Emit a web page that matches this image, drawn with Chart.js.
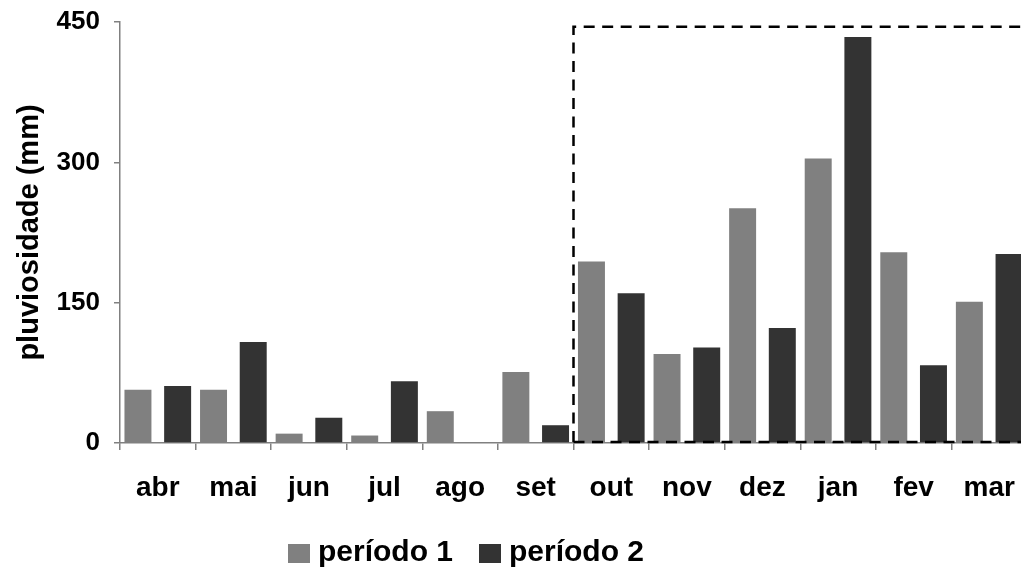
<!DOCTYPE html>
<html>
<head>
<meta charset="utf-8">
<script src="https://cdn.jsdelivr.net/npm/chart.js@4"></script>
<style>
    html, body { margin: 0; padding: 0; overflow: hidden; background: #fff; }
    #wrap { position: relative; width: 1027px; height: 571px; }
    #rainChart { display: block; }
    #legend { position: absolute; left: 0; top: 0; font-family: 'Liberation Sans', Arial, sans-serif; font-weight: bold; font-size: 30px; line-height: 30px; color: #000; }
    .item { position: absolute; top: 536px; white-space: nowrap; }
    .swatch { position: absolute; top: 544px; width: 22px; height: 19px; }
</style>
</head>
<body>
<div id="wrap">
    <canvas id="rainChart" width="1027" height="571"></canvas>
    <div id="legend"></div>
</div>
<script>
// months and rainfall (mm)
const months = ['abr', 'mai', 'jun', 'jul', 'ago', 'set', 'out', 'nov', 'dez', 'jan', 'fev', 'mar'];
const periodo1 = [57, 57, 10, 8, 34, 76, 194, 95, 251, 304, 204, 151];
const periodo2 = [61, 108, 27, 66, 0, 19, 160, 102, 123, 434, 83, 202];
const seriesNames = ['período 1', 'período 2'];
const yTicks = [0, 150, 300, 450];

// dashed box around the rainy season
const boxFrom = 'out';
const boxTo = 'mar';
const boxTop = 445;

const colors = ['#808080', '#333333'];
const axisColor = '#808080';
const font = "'Liberation Sans', Arial, sans-serif";

const dashedBox = {
    id: 'dashedBox',
    afterDatasetsDraw(chart) {
        const x = chart.scales.x;
        const y = chart.scales.y;
        const left = x.getPixelForValue(months.indexOf(boxFrom) - 0.5);
        const right = x.getPixelForValue(months.indexOf(boxTo) + 0.5);
        const top = y.getPixelForValue(boxTop);
        const bottom = y.getPixelForValue(0) - 1;
        const ctx = chart.ctx;
        ctx.save();
        ctx.strokeStyle = '#000';
        ctx.lineWidth = 2.5;
        ctx.setLineDash([11, 7.5]);
        ctx.beginPath();
        ctx.moveTo(left, bottom);
        ctx.lineTo(left, top);
        ctx.lineTo(right, top);
        ctx.stroke();
        ctx.beginPath();
        ctx.moveTo(left, bottom);
        ctx.lineTo(right, bottom);
        ctx.stroke();
        ctx.restore();
    }
};

const ctx = document.getElementById('rainChart').getContext('2d');
const rainChart = new Chart(ctx, {
    type: 'bar',
    data: {
        labels: months,
        datasets: [
            { label: seriesNames[0], data: periodo1, backgroundColor: colors[0] },
            { label: seriesNames[1], data: periodo2, backgroundColor: colors[1] }
        ]
    },
    options: {
        responsive: false,
        animation: false,
        categoryPercentage: 1.05,
        barPercentage: 0.68,
        layout: { padding: { top: 22, left: 0, right: 0, bottom: 0 } },
        scales: {
            x: {
                afterFit(scale) {
                    scale.height = 128;
                    scale.paddingLeft = 0;
                    scale.paddingRight = 0;
                },
                grid: {
                    offset: true,
                    drawOnChartArea: false,
                    drawTicks: true,
                    tickLength: 7,
                    color: axisColor,
                    lineWidth: 1.5
                },
                border: { color: axisColor, width: 1.5 },
                ticks: {
                    color: '#000',
                    padding: 21,
                    maxRotation: 0,
                    font: { family: font, size: 28, weight: 'bold' }
                }
            },
            y: {
                min: 0,
                max: 450,
                afterFit(scale) {
                    scale.width = 120;
                    scale.paddingTop = 0;
                    scale.paddingBottom = 0;
                },
                afterBuildTicks(scale) { scale.ticks = yTicks.map(v => ({ value: v })); },
                grid: {
                    drawOnChartArea: false,
                    drawTicks: true,
                    tickLength: 6,
                    color: axisColor,
                    lineWidth: 1.5
                },
                border: { color: axisColor, width: 1.5 },
                ticks: {
                    color: '#000',
                    padding: 14,
                    font: { family: font, size: 26, weight: 'bold' }
                },
                title: {
                    display: true,
                    text: 'pluviosidade (mm)',
                    color: '#000',
                    padding: { top: 13, bottom: 0 },
                    font: { family: font, size: 29, weight: 'bold' }
                }
            }
        },
        plugins: {
            legend: { display: false },
            tooltip: { enabled: false }
        }
    },
    plugins: [dashedBox]
});

// legend below the chart
const legend = document.getElementById('legend');
const swatchX = [288, 479];
const textX = [318, 509];
seriesNames.forEach((name, i) => {
    const sw = document.createElement('div');
    sw.className = 'swatch';
    sw.style.left = swatchX[i] + 'px';
    sw.style.background = colors[i];
    legend.appendChild(sw);
    const item = document.createElement('div');
    item.className = 'item';
    item.style.left = textX[i] + 'px';
    item.textContent = name;
    legend.appendChild(item);
});
</script>
</body>
</html>
